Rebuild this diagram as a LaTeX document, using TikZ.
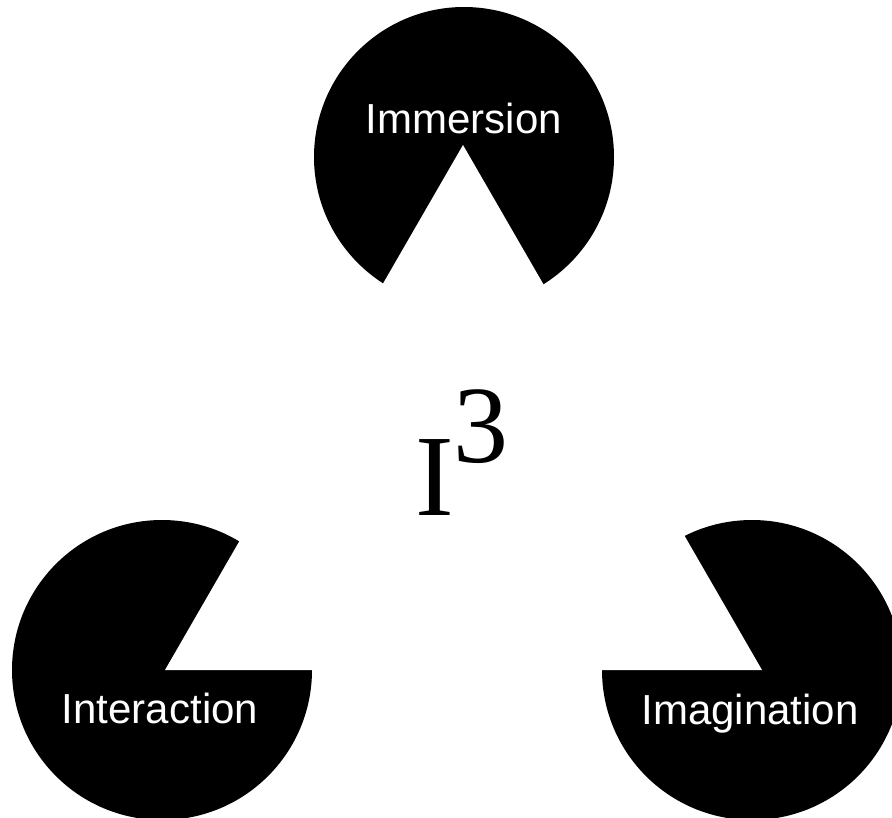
\documentclass[tikz,border=0pt]{standalone}
\usepackage{fontspec}
\setmainfont{Liberation Sans}
\newfontfamily\serifI{Liberation Serif}
\tikzset{
  pac/.style={fill=black},
  notch/.style={fill=white},
  lbl/.style={text=white, font=\fontsize{42}{42}\selectfont, anchor=base, inner sep=0pt},
}
\begin{document}
\begin{tikzpicture}[x=1pt,y=-1pt]
\useasboundingbox (0,0) rectangle (892,817);
\clip (0,0) rectangle (892,817);
% centres and notch apexes
\coordinate (ct) at (464,157); \coordinate (at) at (463,145);
\coordinate (cl) at (162,670); \coordinate (al) at (165,670);
\coordinate (cr) at (752,670); \coordinate (ar) at (762,670);
% top
\fill[pac] (ct) circle[radius=150];
\fill[notch] (at) -- +(60:200) -- +(120:200) -- cycle;
% bottom left
\fill[pac] (cl) circle[radius=150];
\fill[notch] (al) -- +(0:200) -- +(-60:200) -- cycle;
% bottom right
\fill[pac] (cr) circle[radius=150];
\fill[notch] (ar) -- +(180:200) -- +(240:200) -- cycle;
% labels
\node[lbl] (imm) at (464,133) {Immersion};
\node[lbl] (int) at (160,723) {Interaction};
\node[lbl] (ima) at (750,724) {Imagination};
\node[anchor=base west, inner sep=0pt] (i3) at (415,515)
  {\serifI\fontsize{116}{116}\selectfont I\raisebox{53pt}{\fontsize{110}{110}\selectfont 3}};
\end{tikzpicture}
\end{document}
